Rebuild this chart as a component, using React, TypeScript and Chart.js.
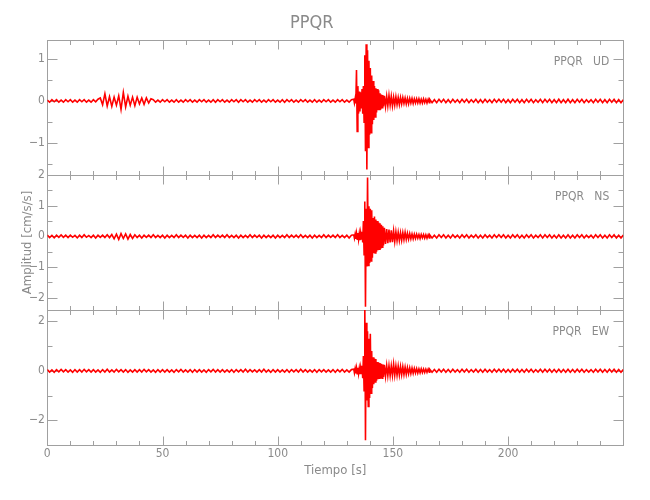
import { useEffect, useRef } from 'react';
import { Chart, registerables } from 'chart.js';
Chart.register(...registerables);

const FONT = "'Liberation Sans Narrow', 'DejaVu Sans Condensed', 'Roboto Condensed', 'Liberation Sans', sans-serif";
const TEXT_COLOR = '#8a8a8a';
const AXIS_COLOR = '#a0a0a0';
const TRACE_COLOR = '#ff0000';

const stationName = 'PPQR';
const components = ['UD', 'NS', 'EW'];
const xTitle = 'Tiempo [s]';
const yTitle = 'Amplitud [cm/s/s]';

// sampling grid (seconds) of each stretch of the records
const preStart = 0, preStep = 1;
const burstStart = 133, burstStep = 0.3;
const codaStart = 146.3, codaStep = 0.5;
const tailStart = 166, tailStep = 1;

// UD component [cm/s/s]
const udPre = [
  0.02, -0.03, 0.03, -0.02, 0.03, -0.03, 0.02, -0.03, 0.03, -0.02,
  0.03, -0.03, 0.02, -0.03, 0.03, -0.02, 0.03, -0.03, 0.02, -0.03,
  0.03, -0.02, 0.04,
  0.07, -0.09, 0.17, -0.12, 0.1, -0.13, 0.09, -0.1, 0.12, -0.2, 0.2, -0.14, 0.11, -0.1, 0.09, -0.11, 0.09, -0.07, 0.07, -0.08, 0.07, -0.05, 0.05,
  0.03, -0.03, 0.02, -0.03, 0.03, -0.02, 0.03, -0.03, 0.02, -0.03,
  0.03, -0.03, 0.02, -0.03, 0.03, -0.02, 0.03, -0.03, 0.02, -0.03,
  0.03, -0.02, 0.03, -0.03, 0.02, -0.03, 0.03, -0.03, 0.03, -0.02,
  0.03, -0.03, 0.02, -0.03, 0.03, -0.02, 0.03, -0.03, 0.03, -0.02,
  0.03, -0.03, 0.02, -0.03, 0.03, -0.02, 0.03, -0.03, 0.02, -0.03,
  0.03, -0.02, 0.03, -0.03, 0.02, -0.03, 0.03, -0.03, 0.03, -0.02,
  0.03, -0.03, 0.02, -0.03, 0.03, -0.02, 0.03, -0.03, 0.02, -0.03,
  0.03, -0.03, 0.02, -0.03, 0.03, -0.02, 0.03, -0.03, 0.02, -0.03,
  0.03, -0.02, 0.03, -0.03, 0.02, -0.03, 0.03,
];
const udBurst = [
  0.04, -0.05, 0.05, -0.06, 0.73, -0.72, 0.35, -0.3, 0.22, -0.25,
  0.2, -0.18, 0.28, -0.3, 0.35, -0.5, 1.08, -1.19, 1.34, -1.62,
  1.2, -1.1, 0.95, -0.8, 0.78, -0.75, 0.6, -0.55, 0.47, -0.45,
  0.35, -0.38, 0.3, -0.27, 0.28, -0.22, 0.25, -0.2, 0.18, -0.2,
  0.15, -0.16, 0.14, -0.13,
];
const udCoda = [
  0.12, -0.13, 0.11, -0.12, 0.13, -0.1, 0.11, -0.12, 0.09, -0.1,
  0.1, -0.09, 0.08, -0.09, 0.08, -0.07, 0.08, -0.06, 0.07, -0.07,
  0.06, -0.07, 0.06, -0.05, 0.06, -0.06, 0.05, -0.05, 0.05, -0.05,
  0.05, -0.05, 0.04, -0.05, 0.05, -0.04, 0.04, -0.05, 0.04, -0.04,
];
const udTail = [
  0.04, -0.04, 0.03, -0.04, 0.04, -0.03, 0.04, -0.04, 0.03, -0.04,
  0.04, -0.03, 0.03, -0.04, 0.04, -0.03, 0.04, -0.04, 0.03, -0.03,
  0.04, -0.04, 0.03, -0.04, 0.04, -0.03, 0.03, -0.04, 0.04, -0.03,
  0.04, -0.03, 0.04, -0.04, 0.03, -0.04, 0.04, -0.03, 0.04, -0.04,
  0.03, -0.04, 0.04, -0.03, 0.04, -0.04, 0.03, -0.03, 0.04, -0.04,
  0.04, -0.03, 0.04, -0.04, 0.03, -0.04, 0.04, -0.04, 0.03, -0.04,
  0.04, -0.04, 0.03, -0.04, 0.04, -0.03, 0.04, -0.04, 0.03, -0.03,
  0.03, -0.04, 0.04, -0.03, 0.04, -0.04, 0.03, -0.04, 0.04, -0.03,
  0.04, -0.04, 0.03, -0.04, 0.03,
];

// NS component [cm/s/s]
const nsPre = [
  0.04, -0.04, 0.03, -0.05, 0.04, -0.03, 0.05, -0.03, 0.04, -0.04,
  0.04, -0.03, 0.03, -0.05, 0.04, -0.04, 0.05, -0.03, 0.03, -0.04,
  0.04, -0.05, 0.04, -0.03, 0.04, -0.04, 0.05, -0.04,
  0.06, -0.08, 0.07, -0.1, 0.09, -0.07, 0.08, -0.09, 0.06, -0.07, 0.05,
  -0.04, 0.04, -0.05, 0.04, -0.03, 0.04, -0.04, 0.05, -0.04, 0.03,
  -0.04, 0.04, -0.05, 0.04, -0.04, 0.03, -0.04, 0.05, -0.04, 0.04,
  -0.03, 0.04, -0.05, 0.04, -0.04, 0.03, -0.04, 0.04, -0.05, 0.04,
  -0.04, 0.03, -0.04, 0.05, -0.04, 0.04, -0.03, 0.04, -0.04, 0.05,
  -0.04, 0.03, -0.04, 0.04, -0.05, 0.04, -0.04, 0.03, -0.04, 0.05,
  -0.04, 0.04, -0.03, 0.04, -0.05, 0.04, -0.04, 0.03, -0.04, 0.04,
  -0.05, 0.04, -0.04, 0.03, -0.04, 0.05, -0.04, 0.04, -0.03, 0.04,
  -0.04, 0.05, -0.04, 0.03, -0.04, 0.04, -0.05, 0.04, -0.04, 0.03,
  -0.04, 0.05, -0.04, 0.04, -0.03, 0.04, -0.04, 0.05, -0.04, 0.03,
  -0.04, 0.04, -0.05, 0.04,
];
const nsBurst = [
  0.05, -0.06, 0.07, -0.08, 0.1, -0.09, 0.11, -0.1, 0.09, -0.12,
  0.1, -0.11, 0.15, -0.2, 0.5, -0.6, 1.14, -2.29, 0.9, -0.98,
  1.92, -0.95, 0.98, -0.87, 0.9, -0.8, 0.85, -0.7, 0.6, -0.55,
  0.65, -0.54, 0.55, -0.5, 0.5, -0.45, 0.45, -0.42, 0.43, -0.4,
  0.38, -0.35, 0.33, -0.3,
];
const nsCoda = [
  0.28, -0.25, 0.24, -0.22, 0.22, -0.2, 0.2, -0.19, 0.18, -0.17,
  0.15, -0.14, 0.13, -0.14, 0.12, -0.13, 0.12, -0.11, 0.13, -0.1,
  0.1, -0.09, 0.09, -0.08, 0.08, -0.08, 0.07, -0.07, 0.07, -0.06,
  0.06, -0.07, 0.06, -0.05, 0.06, -0.06, 0.05, -0.06, 0.05, -0.05,
];
const nsTail = [
  0.05, -0.05, 0.04, -0.05, 0.05, -0.04, 0.05, -0.05, 0.04, -0.05,
  0.05, -0.04, 0.04, -0.05, 0.05, -0.04, 0.05, -0.05, 0.04, -0.04,
  0.05, -0.05, 0.04, -0.05, 0.05, -0.04, 0.04, -0.05, 0.05, -0.04,
  0.05, -0.04, 0.05, -0.05, 0.04, -0.05, 0.05, -0.04, 0.05, -0.05,
  0.04, -0.05, 0.05, -0.04, 0.05, -0.05, 0.04, -0.04, 0.05, -0.05,
  0.05, -0.04, 0.05, -0.05, 0.04, -0.05, 0.05, -0.05, 0.04, -0.05,
  0.05, -0.05, 0.04, -0.05, 0.05, -0.04, 0.05, -0.05, 0.04, -0.04,
  0.04, -0.05, 0.05, -0.04, 0.05, -0.05, 0.04, -0.05, 0.05, -0.04,
  0.05, -0.05, 0.04, -0.05, 0.04,
];

// EW component [cm/s/s]
const ewPre = [
  0.05, -0.05, 0.04, -0.06, 0.05, -0.04, 0.06, -0.04, 0.05, -0.05,
  0.04, -0.06, 0.05, -0.05, 0.05, -0.05, 0.06, -0.04, 0.05, -0.05,
  0.05, -0.05, 0.04, -0.06, 0.05, -0.05, 0.06, -0.05, 0.04, -0.05,
  0.06, -0.04, 0.05, -0.05, 0.05, -0.06, 0.04, -0.05, 0.05, -0.05,
  0.05, -0.05, 0.06, -0.04, 0.05, -0.05, 0.04, -0.06, 0.05, -0.05,
  0.05, -0.05, 0.05, -0.05, 0.04, -0.06, 0.05, -0.04, 0.06, -0.05,
  0.04, -0.05, 0.05, -0.06, 0.05, -0.05, 0.05, -0.05, 0.04, -0.06,
  0.05, -0.04, 0.06, -0.05, 0.05, -0.05, 0.05, -0.05, 0.04, -0.05,
  0.05, -0.06, 0.05, -0.04, 0.05, -0.05, 0.06, -0.05, 0.05, -0.04,
  0.04, -0.05, 0.05, -0.05, 0.06, -0.05, 0.04, -0.06, 0.05, -0.05,
  0.05, -0.05, 0.04, -0.05, 0.05, -0.06, 0.05, -0.04, 0.05, -0.05,
  0.06, -0.05, 0.05, -0.05, 0.04, -0.05, 0.05, -0.06, 0.05, -0.04,
  0.05, -0.05, 0.04, -0.05, 0.05, -0.06, 0.05, -0.04, 0.06, -0.05,
  0.04, -0.05, 0.05,
];
const ewBurst = [
  0.07, -0.08, 0.09, -0.1, 0.11, -0.12, 0.12, -0.11, 0.1, -0.13,
  0.12, -0.14, 0.2, -0.3, 0.6, -0.8, 2.87, -2.81, 1.94, -1.2,
  1.6, -1.44, 1.3, -1.1, 1.5, -0.9, 0.8, -0.7, 0.55, -0.54,
  0.5, -0.45, 0.48, -0.4, 0.36, -0.34, 0.34, -0.3, 0.32, -0.3,
  0.28, -0.3, 0.26, -0.25,
];
const ewCoda = [
  0.24, -0.22, 0.22, -0.2, 0.21, -0.2, 0.2, -0.19, 0.27, -0.18,
  0.2, -0.18, 0.19, -0.17, 0.18, -0.16, 0.17, -0.15, 0.15, -0.14,
  0.13, -0.12, 0.12, -0.11, 0.11, -0.1, 0.1, -0.09, 0.09, -0.09,
  0.08, -0.08, 0.08, -0.07, 0.07, -0.07, 0.07, -0.06, 0.07, -0.06,
];
const ewTail = [
  0.06, -0.06, 0.05, -0.06, 0.06, -0.05, 0.06, -0.06, 0.05, -0.06,
  0.06, -0.05, 0.05, -0.06, 0.06, -0.05, 0.06, -0.06, 0.05, -0.05,
  0.06, -0.06, 0.05, -0.06, 0.06, -0.05, 0.05, -0.06, 0.06, -0.05,
  0.06, -0.05, 0.06, -0.06, 0.05, -0.06, 0.06, -0.05, 0.06, -0.06,
  0.05, -0.06, 0.06, -0.05, 0.06, -0.06, 0.05, -0.05, 0.06, -0.06,
  0.06, -0.05, 0.06, -0.06, 0.05, -0.06, 0.06, -0.06, 0.05, -0.06,
  0.06, -0.06, 0.05, -0.06, 0.06, -0.05, 0.06, -0.06, 0.05, -0.05,
  0.05, -0.06, 0.06, -0.05, 0.06, -0.06, 0.05, -0.06, 0.06, -0.05,
  0.06, -0.06, 0.05, -0.06, 0.05,
];

// axis settings
const xMin = 0, xMax = 250, xMajor = 50, xMinor = 10;
const udRange = [-1.75, 1.44], nsRange = [-2.4, 2.0], ewRange = [-3.0, 2.46];
const udMajor = 1, nsMajor = 1, ewMajor = 2;
const udMinor = 0.5, nsMinor = 0.5, ewMinor = 1;

function seg(start: number, step: number, vals: number[]) {
  return vals.map((v, i) => ({ x: Math.round((start + i * step) * 100) / 100, y: v }));
}
function trace(pre: number[], burst: number[], coda: number[], tail: number[]) {
  return [
    ...seg(preStart, preStep, pre),
    ...seg(burstStart, burstStep, burst),
    ...seg(codaStart, codaStep, coda),
    ...seg(tailStart, tailStep, tail),
  ];
}

const panels = [
  { id: 'yUD', comp: components[0], range: udRange, major: udMajor, minor: udMinor, weight: 3 },
  { id: 'yNS', comp: components[1], range: nsRange, major: nsMajor, minor: nsMinor, weight: 2 },
  { id: 'yEW', comp: components[2], range: ewRange, major: ewMajor, minor: ewMinor, weight: 1 },
];

const fmt = (v: number) => (v < 0 ? '\u2212' + Math.abs(v) : String(v));
const LEFT = 47.3;

function yAxis(p: any, title?: string) {
  return {
    type: 'linear',
    position: 'left',
    stack: 'panels',
    stackWeight: 1,
    weight: p.weight,
    min: p.range[0],
    max: p.range[1],
    grid: { display: false, drawTicks: false },
    border: { display: false },
    ticks: {
      stepSize: p.major,
      includeBounds: false,
      autoSkip: false,
      padding: 2.5,
      color: TEXT_COLOR,
      font: { family: FONT, size: 12 },
      callback: (v: any) => fmt(Number(v)),
    },
    title: title
      ? { display: true, text: title, color: TEXT_COLOR, font: { family: FONT, size: 13 }, padding: { top: 20, bottom: 0 } }
      : { display: false },
    afterFit: (s: any) => { s.width = LEFT; },
  };
}

const framePlugin = {
  id: 'panelFrames',
  beforeDatasetsDraw(chart: any) {
    const { ctx, chartArea } = chart;
    const xs = chart.scales.x;
    const l = chartArea.left, r = chartArea.right;
    ctx.save();
    ctx.strokeStyle = AXIS_COLOR;
    ctx.lineWidth = 1;
    const line = (x1: number, y1: number, x2: number, y2: number) => {
      ctx.beginPath(); ctx.moveTo(x1, y1); ctx.lineTo(x2, y2); ctx.stroke();
    };
    for (const p of panels) {
      const s = chart.scales[p.id];
      const top = Math.round(s.top) + 0.5, bot = Math.round(s.bottom) + 0.5;
      const L = Math.round(l) + 0.5, R = Math.round(r) + 0.5;
      ctx.strokeRect(L, top, R - L, bot - top);
      for (let v = xMin; v <= xMax + 1e-6; v += xMinor) {
        const px = Math.round(xs.getPixelForValue(v)) + 0.5;
        const isMajor = Math.abs(v / xMajor - Math.round(v / xMajor)) < 1e-6;
        const len = isMajor ? 9 : 4.5;
        line(px, top, px, top + len);
        line(px, bot, px, bot - len);
      }
      const start = Math.ceil(p.range[0] / p.minor) * p.minor;
      for (let v = start; v <= p.range[1] + 1e-6; v += p.minor) {
        const py = Math.round(s.getPixelForValue(v)) + 0.5;
        const isMajor = Math.abs(v / p.major - Math.round(v / p.major)) < 1e-6;
        const len = isMajor ? 10 : 5;
        line(L, py, L + len, py);
        line(R, py, R - len, py);
      }
    }
    ctx.restore();
  },
  afterDraw(chart: any) {
    const { ctx, chartArea } = chart;
    ctx.save();
    ctx.fillStyle = TEXT_COLOR;
    ctx.font = `12px ${FONT}`;
    ctx.textAlign = 'right';
    ctx.textBaseline = 'middle';
    for (const p of panels) {
      const s = chart.scales[p.id];
      ctx.fillText(`${stationName}   ${p.comp}`, chartArea.right - 14, s.top + 22);
    }
    ctx.restore();
  },
};

export default function App() {
  const ref = useRef<HTMLCanvasElement | null>(null);
  useEffect(() => {
    if (!ref.current) return;
    const ds = (data: any[], yAxisID: string) => ({
      data, yAxisID, xAxisID: 'x',
      borderColor: TRACE_COLOR, borderWidth: 1.6, pointRadius: 0, tension: 0, fill: false,
    });
    const chart = new Chart(ref.current, {
      type: 'line',
      data: {
        datasets: [
          ds(trace(udPre, udBurst, udCoda, udTail), 'yUD'),
          ds(trace(nsPre, nsBurst, nsCoda, nsTail), 'yNS'),
          ds(trace(ewPre, ewBurst, ewCoda, ewTail), 'yEW'),
        ],
      },
      options: {
        animation: false,
        responsive: false,
        maintainAspectRatio: false,
        layout: { padding: { left: 0, right: 26.7, top: 0, bottom: 0 } },
        plugins: {
          legend: { display: false },
          tooltip: { enabled: false },
          title: {
            display: true,
            text: stationName,
            color: TEXT_COLOR,
            font: { family: FONT, size: 18, weight: 'normal' },
            padding: { top: 12.2, bottom: 6.2 },
          },
        },
        scales: {
          x: {
            type: 'linear',
            position: 'bottom',
            min: xMin,
            max: xMax,
            grid: { display: false, drawTicks: false },
            border: { display: false },
            ticks: {
              stepSize: xMajor,
              autoSkip: false,
              maxRotation: 0,
              padding: 1.8,
              color: TEXT_COLOR,
              font: { family: FONT, size: 12 },
            },
            afterBuildTicks: (s: any) => { s.ticks = s.ticks.filter((t: any) => t.value < xMax); },
            title: { display: true, text: xTitle, color: TEXT_COLOR, font: { family: FONT, size: 13 }, padding: { top: 1, bottom: 21.2 } },
            afterFit: (s: any) => { s.height = 55; },
          },
          yEW: yAxis(panels[2]),
          yNS: yAxis(panels[1], yTitle),
          yUD: yAxis(panels[0]),
        } as any,
      },
      plugins: [framePlugin],
    } as any);
    return () => chart.destroy();
  }, []);
  return (
    <div style={{ position: 'fixed', left: 0, top: 0, width: 650, height: 500, background: '#fff' }}>
      <canvas ref={ref} width={650} height={500} />
    </div>
  );
}
